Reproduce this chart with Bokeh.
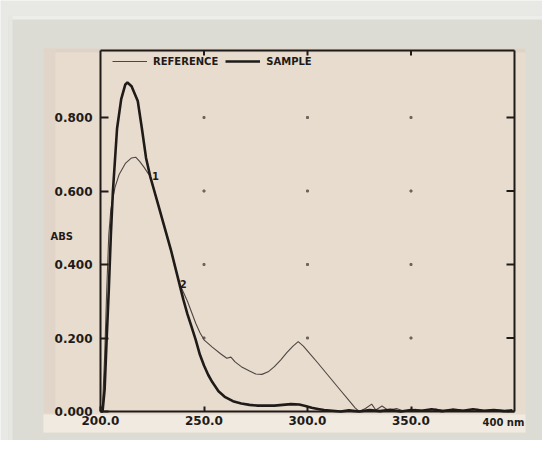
from bokeh.plotting import figure
from bokeh.models import (LinearAxis, Range1d, FixedTicker, PrintfTickFormatter, Label,
                          BoxAnnotation, Legend, LegendItem)
from bokeh.embed import file_html
from bokeh.resources import INLINE

# ---------------- data ----------------
sample_nm = [200, 201, 202, 203, 204, 205, 206, 208, 210, 212, 213, 215, 218, 220, 222, 224,
             226, 228, 230, 232, 234, 236, 238, 240, 242, 244, 246, 248, 250, 252, 254, 257,
             260, 264, 268, 272, 276, 280, 284, 288, 292, 296, 299, 302, 305, 308, 312, 316,
             320, 325, 330, 335, 340, 345, 350, 355, 360, 365, 370, 375, 380, 385, 390, 395, 399]
sample_abs = [0.0, 0.0, 0.06, 0.20, 0.33, 0.48, 0.60, 0.77, 0.85, 0.89, 0.895, 0.885, 0.845,
              0.77, 0.69, 0.64, 0.60, 0.56, 0.52, 0.48, 0.44, 0.395, 0.35, 0.305, 0.265, 0.23,
              0.195, 0.155, 0.125, 0.10, 0.08, 0.055, 0.04, 0.028, 0.022, 0.018, 0.016, 0.016,
              0.016, 0.018, 0.02, 0.019, 0.015, 0.01, 0.007, 0.004, 0.002, 0.0, 0.003, 0.0,
              0.004, 0.001, 0.005, 0.0, 0.004, 0.002, 0.006, 0.001, 0.005, 0.002, 0.006, 0.002,
              0.004, 0.001, 0.003]

ref_nm = [200, 201, 202, 203, 204, 205, 207, 209, 212, 215, 217, 219, 221, 223, 224, 226, 228,
          230, 232, 234, 236, 238, 240, 242, 244, 246, 248, 250, 254, 258, 261, 263, 265, 268,
          272, 275, 278, 281, 284, 287, 290, 293, 295.5, 298, 301, 305, 310, 315, 320, 323, 325,
          328, 331, 333, 336, 339, 343, 347, 352, 357, 362, 367, 372, 377, 382, 387, 392, 397, 400]
ref_abs = [0.0, 0.02, 0.15, 0.33, 0.48, 0.55, 0.61, 0.645, 0.675, 0.69, 0.692, 0.68, 0.665,
           0.648, 0.64, 0.60, 0.56, 0.52, 0.48, 0.44, 0.395, 0.35, 0.325, 0.30, 0.27, 0.24,
           0.215, 0.195, 0.175, 0.157, 0.145, 0.148, 0.135, 0.122, 0.11, 0.102, 0.101, 0.108,
           0.122, 0.14, 0.16, 0.178, 0.19, 0.178, 0.158, 0.132, 0.098, 0.064, 0.03, 0.01, 0.0,
           0.008, 0.02, 0.004, 0.015, 0.003, 0.008, 0.0, 0.006, 0.002, 0.007, 0.001, 0.005,
           0.002, 0.006, 0.001, 0.004, 0.002, 0.0]

x_ticks = [200, 250, 300, 350]
x_last = 400
x_last_label = "400 nm"
y_ticks = [0.0, 0.2, 0.4, 0.6, 0.8]
grid_x = [250, 300, 350]
grid_y = [0.2, 0.4, 0.6, 0.8]
marks = [("1", 226.5, 0.64), ("2", 240.0, 0.348)]

# ---------------- layout (pixel geometry of the photographed page) ----------------
W, H = 542, 440
PX_LEFT, PX_BOTTOM = 100, 411      # pixel of x=200, y=0
SX = 2.07                          # px per nm
SY = 367.5                         # px per absorbance unit
PX_TOP = 50

def X(px):
    return 200 + (px - PX_LEFT) / SX

def Y(py):
    return (PX_BOTTOM - py) / SY

Y_TOP = Y(PX_TOP)

INK = "#1f1b18"
PAPER = "#e8dccf"
CARD = "#dcdcd5"
OUTER = "#e8e8e5"

p = figure(width=W, height=H, output_backend="svg", toolbar_location=None,
           x_range=Range1d(X(0), X(W)), y_range=Range1d(Y(H), Y(0)),
           x_axis_location=None, y_axis_location=None,
           min_border=0, min_border_left=0, min_border_right=0,
           min_border_top=0, min_border_bottom=0)
p.grid.visible = False
p.outline_line_color = None
p.background_fill_color = OUTER
p.border_fill_color = OUTER

def box(x0, x1, y0, y1, color):
    p.add_layout(BoxAnnotation(left=X(x0), right=X(x1), top=Y(y0), bottom=Y(y1),
                               fill_color=color, fill_alpha=1, line_alpha=0,
                               level="underlay"))

box(8, W + 5, 15, H + 5, CARD)          # card
box(8, W + 5, 15, 19, "#ededea")        # card highlight
box(8, 12, 15, H + 5, "#e6e6e2")
box(43, 525, 48, 432, PAPER)            # paper
box(43, 525, 48, 52, "#ddd3c7")         # top bevel shade
box(43, 55, 48, 413, "#e0d5c8")         # left bevel shade
box(43, 525, 414, 432, "#f0eae1")       # bottom bevel highlight

font = "DejaVu Sans"

def style_axis(ax, tick_in):
    ax.axis_line_color = INK
    ax.axis_line_width = 2
    ax.major_tick_line_color = INK
    ax.major_tick_line_width = 2
    ax.major_tick_in = tick_in
    ax.major_tick_out = 0
    ax.minor_tick_in = 0
    ax.minor_tick_out = 0
    ax.major_label_text_font = font
    ax.major_label_text_font_style = "bold"
    ax.major_label_text_color = INK
    ax.major_label_text_font_size = "12px"

left = LinearAxis(ticker=FixedTicker(ticks=y_ticks), formatter=PrintfTickFormatter(format="%.3f"),
                  fixed_location=200, bounds=(0, Y_TOP))
style_axis(left, 8)
left.major_label_standoff = 8
p.add_layout(left, "left")

bottom = LinearAxis(ticker=FixedTicker(ticks=x_ticks), formatter=PrintfTickFormatter(format="%.1f"),
                    fixed_location=0, bounds=(200, x_last))
style_axis(bottom, 5)
bottom.major_label_standoff = 4
p.add_layout(bottom, "below")

# top and right borders with inward ticks
tick_top = 5 / SY
tick_right = 8 / SX
p.segment(x0=[200], y0=[Y_TOP], x1=[x_last], y1=[Y_TOP], line_color=INK, line_width=2)
p.segment(x0=[x_last], y0=[0], x1=[x_last], y1=[Y_TOP], line_color=INK, line_width=2)
p.segment(x0=grid_x, y0=[Y_TOP] * len(grid_x), x1=grid_x, y1=[Y_TOP - tick_top] * len(grid_x),
          line_color=INK, line_width=2)
p.segment(x0=[x_last] * len(y_ticks), y0=y_ticks, x1=[x_last - tick_right] * len(y_ticks),
          y1=y_ticks, line_color=INK, line_width=2)

# grid dots
gx = [x for x in grid_x for _ in grid_y]
gy = [y for _ in grid_x for y in grid_y]
p.scatter(gx, gy, marker="square", size=2, color="#6f655d")

ref_r = p.line(ref_nm, ref_abs, line_color="#4d4641", line_width=1.1)
smp_r = p.line(sample_nm, sample_abs, line_color=INK, line_width=2.6)

legend = Legend(items=[LegendItem(label="REFERENCE", renderers=[ref_r]),
                       LegendItem(label="SAMPLE", renderers=[smp_r])],
                orientation="horizontal", location=(112, H - 68),
                margin=0, padding=0, spacing=7, glyph_width=35, glyph_height=14,
                label_height=14, label_standoff=6,
                label_text_font=font, label_text_font_style="bold",
                label_text_font_size="10px", label_text_color=INK,
                background_fill_alpha=0, border_line_alpha=0)
p.add_layout(legend)

for t, x, y in marks:
    p.add_layout(Label(x=x, y=y, text=t, text_font=font, text_font_style="bold",
                       text_font_size="10px", text_color=INK, text_align="center",
                       text_baseline="middle"))

p.add_layout(Label(x=X(50), y=Y(236), text="ABS", text_font=font,
                   text_font_style="bold", text_font_size="10px", text_color=INK,
                   text_align="left", text_baseline="middle"))
p.add_layout(Label(x=X(482), y=Y(422), text=x_last_label, text_font=font,
                   text_font_style="bold", text_font_size="10px", text_color=INK,
                   text_align="left", text_baseline="middle"))

open("out.html", "w").write(file_html(p, INLINE))
